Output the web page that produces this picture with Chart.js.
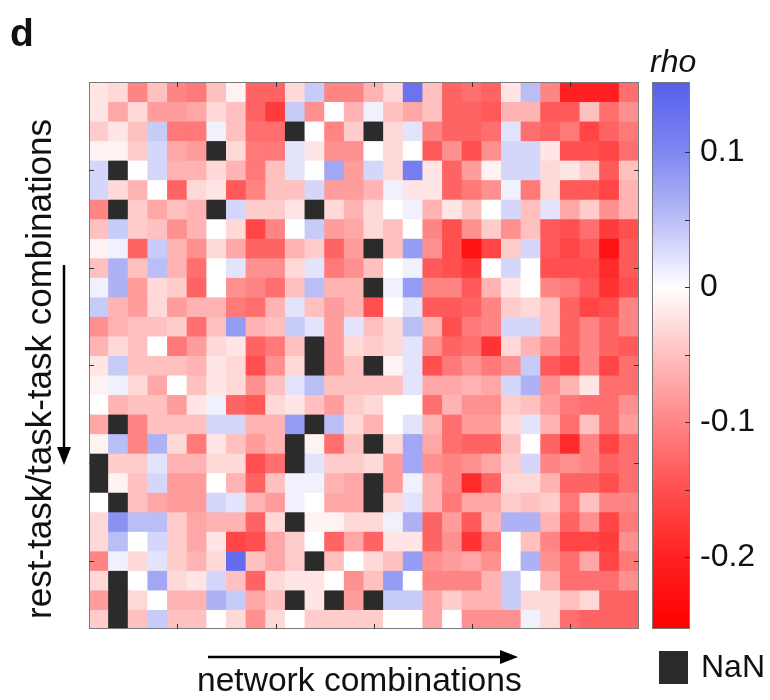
<!DOCTYPE html>
<html>
<head>
<meta charset="utf-8">
<script src="https://cdn.jsdelivr.net/npm/chart.js@4.4.1/dist/chart.umd.min.js"></script>
<style>
  html, body { margin: 0; padding: 0; background: #fff; }
  #wrap { position: relative; width: 770px; height: 700px; overflow: hidden;
          font-family: Arial, "Liberation Sans", sans-serif; color: #111; }
  canvas { position: absolute; }
  .lbl { position: absolute; white-space: nowrap; line-height: 1; }
</style>
</head>
<body>
<div id="wrap">
  <canvas id="heat" width="770" height="700" style="left:0;top:0"></canvas>
  <canvas id="cbar" width="118" height="547" style="left:652px;top:82px"></canvas>

  <div class="lbl" style="left:10px;top:13px;font-size:39px;font-weight:bold">d</div>
  <div class="lbl" style="left:650px;top:45px;font-size:32px;font-style:italic">rho</div>
  <div class="lbl" style="left:197px;top:663px;font-size:33.6px">network combinations</div>
  <div class="lbl" style="left:38px;top:369px;font-size:35px;transform:translate(-50%,-50%) rotate(-90deg)">rest-task/task-task combinations</div>
  <div style="position:absolute;left:659px;top:651px;width:29px;height:33px;background:#2b2b2b"></div>
  <div class="lbl" style="left:701px;top:650px;font-size:32px">NaN</div>
</div>

<script>
// rho por célula: 28 linhas (combinações rest-task/task-task) x 28 colunas (combinações de redes)
// null = NaN (célula preta)
const row01 = [-0.02,-0.03,-0.10,-0.05,-0.10,-0.11,-0.05,-0.01,-0.13,-0.13,-0.03, 0.04,-0.10,-0.10,-0.06,-0.03, 0.12,-0.05,-0.13,-0.12,-0.13,-0.02, 0.05,-0.10,-0.20,-0.20,-0.20,-0.12];
const row02 = [-0.02,-0.07,-0.03,-0.08,-0.08,-0.07,-0.03,-0.05,-0.13,-0.17, 0.04,-0.09, 0.00,-0.06, 0.01,-0.05,-0.07,-0.05,-0.13,-0.13,-0.14,-0.06,-0.06,-0.14,-0.14,-0.05,-0.12,-0.09];
const row03 = [-0.04,-0.02,-0.05, 0.04,-0.11,-0.11, 0.01,-0.05,-0.12,-0.12, null, 0.00,-0.10,-0.04, null,-0.03, 0.02,-0.10,-0.13,-0.13,-0.12, 0.02,-0.12,-0.13,-0.11,-0.16,-0.13,-0.11];
const row04 = [-0.01,-0.01,-0.04, 0.03,-0.07,-0.08, null,-0.03,-0.11,-0.11, 0.02,-0.02,-0.09,-0.09, 0.00,-0.03, 0.00,-0.14,-0.09,-0.15,-0.09, 0.03, 0.03,-0.02,-0.15,-0.15,-0.16,-0.12];
const row05 = [ 0.03, null, 0.00, 0.03,-0.06,-0.06,-0.03,-0.06,-0.11,-0.05, 0.02, 0.00, 0.07,-0.08, 0.03,-0.03, 0.11,-0.02,-0.13,-0.08,-0.01, 0.03, 0.03,-0.03,-0.02,-0.04,-0.14,-0.05];
const row06 = [ 0.03,-0.03,-0.06, 0.00,-0.13,-0.03,-0.02,-0.14,-0.10,-0.05,-0.05, 0.03,-0.08,-0.08,-0.06, 0.01,-0.02,-0.02,-0.13,-0.11,-0.09, 0.01,-0.11,-0.03,-0.14,-0.14,-0.16,-0.06];
const row07 = [-0.10, null,-0.04,-0.07,-0.05,-0.06, null, 0.03,-0.04,-0.04,-0.02, null,-0.03,-0.06,-0.03, 0.00, 0.01,-0.06,-0.02,-0.05, 0.00, 0.03,-0.05, 0.02,-0.07,-0.04,-0.09,-0.06];
const row08 = [-0.05, 0.04,-0.04,-0.05,-0.09,-0.06, 0.00,-0.03,-0.16,-0.10, 0.00, 0.04,-0.08,-0.07,-0.03,-0.05, 0.00,-0.10,-0.15,-0.09,-0.04,-0.09,-0.05,-0.14,-0.15,-0.12,-0.17,-0.15];
const row09 = [-0.01, 0.01,-0.13, 0.04,-0.06,-0.09,-0.03,-0.07,-0.13,-0.13,-0.06,-0.04,-0.13,-0.08, null,-0.05, 0.08,-0.09,-0.15,-0.22,-0.16,-0.04, 0.03,-0.14,-0.16,-0.14,-0.22,-0.14];
const row10 = [-0.05, 0.06,-0.05, 0.05,-0.06,-0.12, 0.00, 0.02,-0.09,-0.09,-0.03, 0.02,-0.11,-0.09,-0.05, 0.00, 0.01,-0.14,-0.15,-0.17, 0.00, 0.03, 0.00,-0.15,-0.15,-0.15,-0.19,-0.14];
const row11 = [ 0.01, 0.06,-0.08,-0.03,-0.04,-0.13, 0.00,-0.09,-0.10,-0.12,-0.05, 0.05,-0.06,-0.06, null, 0.01, 0.08,-0.10,-0.10,-0.14,-0.06,-0.02, 0.00,-0.10,-0.11,-0.14,-0.18,-0.15];
const row12 = [ 0.04,-0.06,-0.08,-0.03,-0.08,-0.06,-0.06,-0.11,-0.12,-0.06, 0.02,-0.05,-0.08,-0.06,-0.15, 0.00, 0.02,-0.14,-0.14,-0.13,-0.10,-0.04,-0.03,-0.05,-0.13,-0.16,-0.15,-0.10];
const row13 = [-0.09,-0.06,-0.05,-0.05,-0.04,-0.12,-0.05, 0.08,-0.06,-0.05, 0.04, 0.02,-0.08, 0.02,-0.05,-0.03, 0.05,-0.06,-0.15,-0.11,-0.10, 0.03, 0.03,-0.05,-0.13,-0.10,-0.13,-0.10];
const row14 = [-0.06,-0.03,-0.05, 0.00,-0.11,-0.08,-0.03,-0.02,-0.13,-0.11,-0.05, null,-0.08,-0.03,-0.04,-0.03, 0.02,-0.09,-0.13,-0.12,-0.18,-0.03,-0.06,-0.09,-0.13,-0.10,-0.13,-0.14];
const row15 = [-0.02, 0.04,-0.05,-0.05,-0.05,-0.06,-0.02,-0.03,-0.15,-0.09,-0.03, null,-0.08,-0.05, null,-0.01, 0.02,-0.15,-0.11,-0.09,-0.11,-0.09, 0.04,-0.14,-0.16,-0.10,-0.16,-0.12];
const row16 = [-0.01, 0.01,-0.03,-0.07, 0.00,-0.05,-0.02,-0.03,-0.09,-0.05, 0.02, 0.05,-0.05,-0.05,-0.05,-0.05, 0.02,-0.07,-0.07,-0.06,-0.07, 0.03, 0.06,-0.09,-0.06,-0.02,-0.12,-0.12];
const row17 = [ 0.00,-0.06,-0.05,-0.05,-0.08,-0.02, 0.01,-0.13,-0.14,-0.03,-0.02,-0.05,-0.08,-0.04,-0.03, 0.00, 0.00,-0.12,-0.06,-0.09,-0.09,-0.04,-0.05,-0.08,-0.11,-0.12,-0.12,-0.09];
const row18 = [-0.07, null,-0.10,-0.05,-0.05,-0.05, 0.03, 0.03,-0.06,-0.06, 0.08, null, 0.05,-0.03,-0.06, 0.00, 0.02,-0.06,-0.12,-0.08,-0.08,-0.03, 0.02,-0.06,-0.12,-0.05,-0.12,-0.08];
const row19 = [-0.01, 0.05,-0.10, 0.06,-0.03,-0.11,-0.02,-0.05,-0.08,-0.06, null,-0.01,-0.12,-0.05, null,-0.03, 0.07,-0.07,-0.12,-0.13,-0.13,-0.05, 0.00,-0.13,-0.19,-0.10,-0.16,-0.12];
const row20 = [ null,-0.04,-0.04, 0.02,-0.06,-0.06,-0.03,-0.03,-0.15,-0.12, null, 0.02,-0.04,-0.04,-0.03,-0.08, 0.07,-0.09,-0.10,-0.09,-0.07,-0.04, 0.03,-0.10,-0.09,-0.10,-0.13,-0.12];
const row21 = [ null,-0.01,-0.05, 0.03,-0.08,-0.08, 0.00,-0.06,-0.13,-0.05, 0.01, 0.01,-0.06,-0.07, null,-0.08, 0.01,-0.06,-0.10,-0.19,-0.13,-0.03,-0.03,-0.06,-0.13,-0.13,-0.15,-0.12];
const row22 = [ 0.00, null,-0.05,-0.07,-0.08,-0.08, 0.03, 0.02,-0.06,-0.08, 0.01, 0.00,-0.07,-0.07, null,-0.03, 0.02,-0.06,-0.11,-0.07,-0.07,-0.04,-0.05,-0.04,-0.11,-0.05,-0.10,-0.10];
const row23 = [-0.03, 0.09, 0.05, 0.05,-0.04,-0.07,-0.06,-0.06,-0.13,-0.03, null,-0.01,-0.01,-0.03,-0.03, 0.01, 0.06,-0.13,-0.08,-0.14,-0.06, 0.06, 0.06,-0.06,-0.13,-0.09,-0.16,-0.11];
const row24 = [-0.03, 0.05, 0.00, 0.03,-0.04,-0.07,-0.02,-0.16,-0.15,-0.07,-0.04, 0.00,-0.13,-0.07,-0.13,-0.02,-0.02,-0.13,-0.09,-0.18,-0.11, 0.00,-0.05,-0.10,-0.16,-0.16,-0.17,-0.09];
const row25 = [-0.10, 0.01,-0.03, 0.02,-0.04,-0.06,-0.03, 0.13,-0.05,-0.07,-0.04, null,-0.05, 0.00,-0.03,-0.05, 0.08,-0.09,-0.08,-0.07,-0.09, 0.00, 0.06,-0.09,-0.12,-0.07,-0.16,-0.11];
const row26 = [-0.03, null, 0.00, 0.07,-0.03,-0.02, 0.03,-0.05,-0.13,-0.03,-0.02,-0.02, 0.00,-0.09,-0.05, 0.08, 0.00,-0.10,-0.10,-0.10,-0.06, 0.04, 0.00,-0.06,-0.12,-0.12,-0.12,-0.09];
const row27 = [-0.08, null,-0.03, 0.00,-0.06,-0.06, 0.06, 0.04,-0.07,-0.05, null,-0.02, null,-0.08, null, 0.04, 0.04,-0.07,-0.04,-0.06,-0.06, 0.04,-0.03,-0.03,-0.05,-0.03,-0.13,-0.13];
const row28 = [-0.04, null,-0.05, 0.04,-0.05,-0.05, 0.00,-0.03,-0.09,-0.03, 0.00,-0.04,-0.04,-0.04,-0.04, 0.00, 0.00,-0.07, 0.00,-0.09,-0.09,-0.09, 0.01,-0.03,-0.12,-0.13,-0.13,-0.13];

const rows = [row01, row02, row03, row04, row05, row06, row07, row08, row09, row10,
              row11, row12, row13, row14, row15, row16, row17, row18, row19, row20,
              row21, row22, row23, row24, row25, row26, row27, row28];

const colLabels  = row01.map((_, i) => String(i + 1));
const tickCells  = [5, 10, 15, 20, 25];                 // marcas dos eixos (sem rótulo)
const cbarTicks  = [0.1, 0.05, 0, -0.05, -0.1, -0.15, -0.2];
const cbarLabels = [0.1, 0, -0.1, -0.2];
const rhoMin = -0.253;
const rhoMax = 0.152;

const nanColor  = '#2b2b2b';
const redEnd    = [255, 0, 0];
const blueEnd   = [85, 95, 235];
const gamma     = 1.3;

// mapa de cor branco -> vermelho (negativo) / branco -> azul (positivo)
function rhoColor(v) {
  if (v === null) return nanColor;
  const end = v < 0 ? redEnd : blueEnd;
  const t = Math.min(1, v < 0 ? v / rhoMin : v / rhoMax);
  const k = 1 - Math.pow(1 - t, gamma);
  const c = end.map(e => Math.round(255 + (e - 255) * k));
  return `rgb(${c[0]},${c[1]},${c[2]})`;
}

function arrow(ctx, x1, y1, x2, y2) {
  const ang = Math.atan2(y2 - y1, x2 - x1);
  const hl = 18, hw = 7;
  const bx = x2 - hl * Math.cos(ang), by = y2 - hl * Math.sin(ang);
  ctx.beginPath();
  ctx.moveTo(x1, y1); ctx.lineTo(bx, by); ctx.stroke();
  ctx.beginPath();
  ctx.moveTo(x2, y2);
  ctx.lineTo(bx + hw * Math.sin(ang), by - hw * Math.cos(ang));
  ctx.lineTo(bx - hw * Math.sin(ang), by + hw * Math.cos(ang));
  ctx.closePath(); ctx.fill();
}

// moldura, marcas internas dos eixos e setas
const heatFrame = {
  id: 'heatFrame',
  afterDatasetsDraw(chart) {
    const { ctx, chartArea: a, scales: { x, y } } = chart;
    ctx.save();
    ctx.strokeStyle = '#7a7a7a';
    ctx.lineWidth = 1;
    ctx.strokeRect(a.left + 0.5, a.top + 0.5, a.width - 1, a.height - 1);
    ctx.strokeStyle = '#333';
    ctx.beginPath();
    tickCells.forEach(t => {
      const px = Math.round(x.getPixelForValue(t - 1)) + 0.5;
      ctx.moveTo(px, a.top);    ctx.lineTo(px, a.top + 5);
      ctx.moveTo(px, a.bottom); ctx.lineTo(px, a.bottom - 5);
      const py = Math.round(y.getPixelForValue(t - 0.5)) + 0.5;
      ctx.moveTo(a.left, py);  ctx.lineTo(a.left + 5, py);
      ctx.moveTo(a.right, py); ctx.lineTo(a.right - 5, py);
    });
    ctx.stroke();

    ctx.strokeStyle = '#000';
    ctx.fillStyle = '#000';
    ctx.lineWidth = 2.5;
    arrow(ctx, 208, 657, 518, 657);
    arrow(ctx, 64, 265, 64, 465);
    ctx.restore();
  }
};

new Chart(document.getElementById('heat'), {
  type: 'bar',
  data: {
    labels: colLabels,
    datasets: rows.map((vals, r) => ({
      data: vals.map(() => [r, r + 1]),
      backgroundColor: vals.map(rhoColor),
      borderWidth: 0,
      grouped: false,
      barPercentage: 1,
      categoryPercentage: 1,
      inflateAmount: 0.5
    }))
  },
  options: {
    responsive: false,
    animation: false,
    layout: { padding: { left: 89, top: 82, right: 131, bottom: 71 } },
    plugins: { legend: { display: false }, tooltip: { enabled: false } },
    scales: {
      x: { type: 'category', display: false },
      y: { type: 'linear', min: 0, max: rows.length, reverse: true, display: false }
    }
  },
  plugins: [heatFrame]
});

// barra de cores
const cbarFrame = {
  id: 'cbarFrame',
  afterDatasetsDraw(chart) {
    const { ctx, chartArea: a, scales: { y } } = chart;
    ctx.save();
    ctx.strokeStyle = '#7a7a7a';
    ctx.lineWidth = 1;
    ctx.strokeRect(a.left + 0.5, a.top + 0.5, a.width - 1, a.height - 1);
    ctx.strokeStyle = '#333';
    ctx.beginPath();
    cbarTicks.forEach(v => {
      const py = Math.round(y.getPixelForValue(v)) + 0.5;
      ctx.moveTo(a.right, py); ctx.lineTo(a.right - 5, py);
    });
    ctx.stroke();
    ctx.restore();
  }
};

new Chart(document.getElementById('cbar'), {
  type: 'bar',
  data: {
    labels: ['rho'],
    datasets: [{
      data: [[rhoMin, rhoMax]],
      barPercentage: 1,
      categoryPercentage: 1,
      borderWidth: 0,
      backgroundColor(ctx) {
        const a = ctx.chart.chartArea;
        if (!a) return '#fff';
        const g = ctx.chart.ctx.createLinearGradient(0, a.bottom, 0, a.top);
        const span = rhoMax - rhoMin;
        [-0.253, -0.2, -0.15, -0.1, -0.05, -0.025, 0, 0.025, 0.05, 0.1, 0.152].forEach(v => {
          g.addColorStop(Math.min(1, Math.max(0, (v - rhoMin) / span)), v === 0 ? '#ffffff' : rhoColor(v));
        });
        return g;
      }
    }]
  },
  options: {
    responsive: false,
    animation: false,
    layout: { padding: 0 },
    plugins: { legend: { display: false }, tooltip: { enabled: false } },
    scales: {
      x: { display: false },
      y: {
        position: 'right',
        min: rhoMin,
        max: rhoMax,
        afterBuildTicks(scale) { scale.ticks = cbarLabels.map(v => ({ value: v })); },
        afterFit(scale) { scale.width = 80; scale.paddingTop = 0; scale.paddingBottom = 0; },
        border: { display: false },
        grid: { display: false, drawTicks: false },
        ticks: {
          padding: 10,
          color: '#111',
          font: { family: 'Arial, "Liberation Sans", sans-serif', size: 32 },
          callback: v => String(Math.round(v * 10) / 10)
        }
      }
    }
  },
  plugins: [cbarFrame]
});
</script>
</body>
</html>
